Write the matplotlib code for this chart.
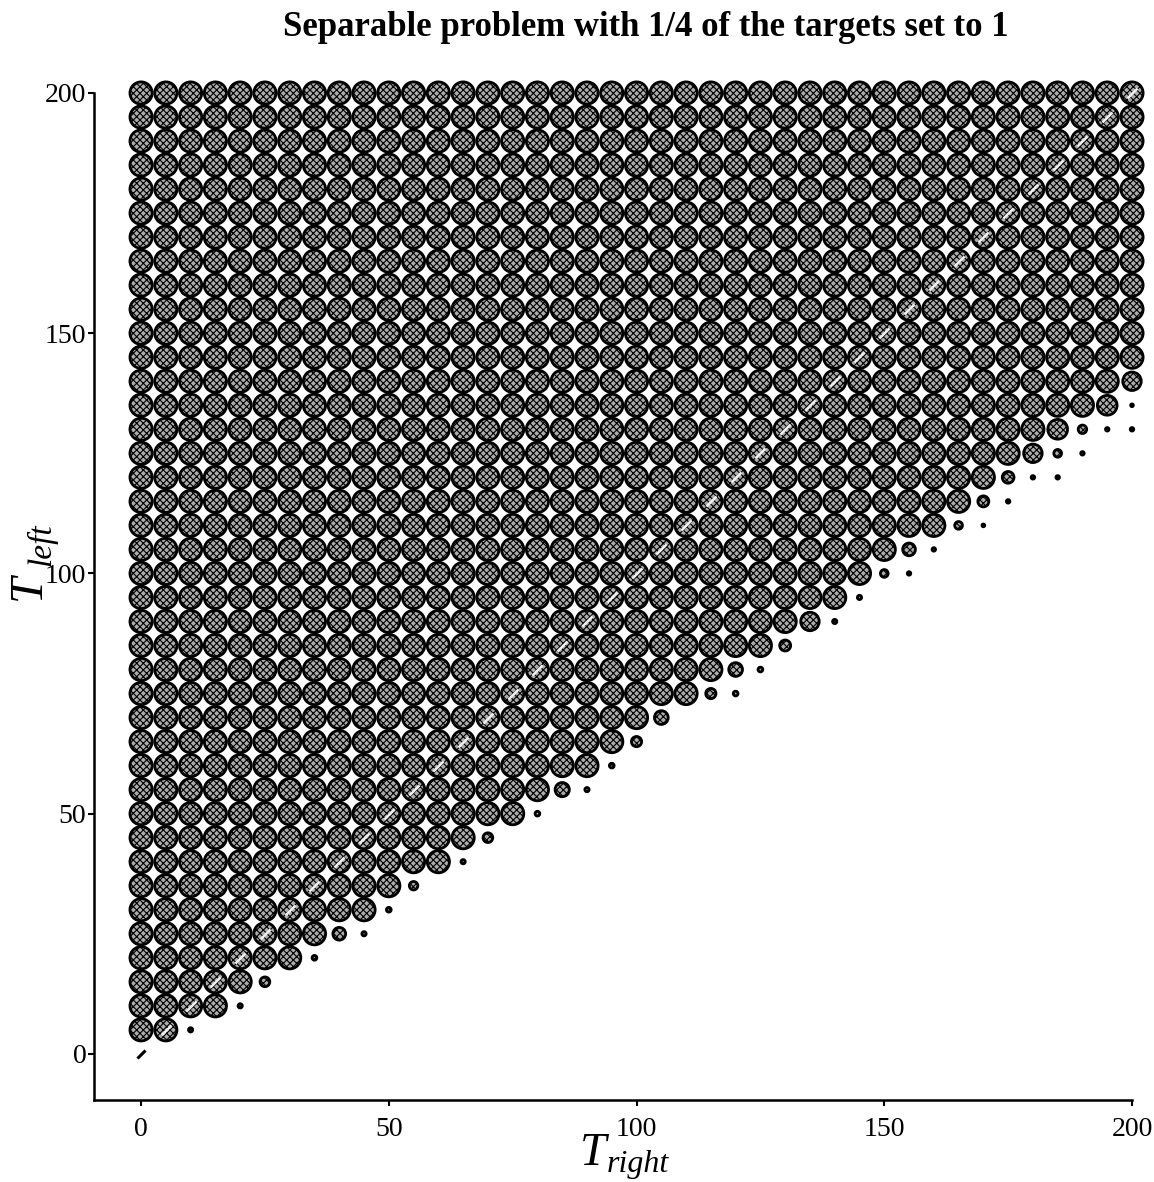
import matplotlib
matplotlib.use("Agg")
import matplotlib.pyplot as plt
from matplotlib.markers import MarkerStyle
from matplotlib.transforms import Affine2D

# ---------------- data ----------------
row_y = list(range(5, 205, 5))                      # T_left levels
full_upto = [5, 15, 20, 30, 35, 45, 50, 60, 65, 75, 80, 90, 95, 100,
             110, 115, 125, 130, 140, 145, 150, 160, 165, 170, 175,
             180, 190, 195] + [200] * 12            # last T_right with a full circle per row

partial_x = [10, 20, 25, 35, 40, 45, 50, 55, 65, 70, 80, 85, 90, 95, 100,
             105, 115, 120, 120, 125, 130, 135, 140, 145, 150, 155, 155,
             160, 165, 170, 170, 175, 175, 180, 185, 180, 185, 190, 185,
             190, 195, 200, 195, 200, 200]
partial_y = [5, 10, 15, 20, 25, 25, 30, 35, 40, 45, 50, 55, 55, 60, 65,
             70, 75, 75, 80, 80, 85, 90, 90, 95, 100, 100, 105,
             105, 110, 110, 115, 115, 120, 120, 120, 125, 125, 125, 130,
             130, 130, 130, 135, 135, 140]
partial_frac = [0.28, 0.28, 0.50, 0.30, 0.62, 0.28, 0.30, 0.45, 0.28, 0.50,
                0.30, 0.68, 0.28, 0.30, 0.52, 0.66, 0.52, 0.30, 0.66, 0.30,
                0.55, 0.85, 0.28, 0.28, 0.42, 0.25, 0.62, 0.25, 0.42, 0.22,
                0.55, 0.25, 0.58, 0.25, 0.25, 0.85, 0.42, 0.25, 0.90, 0.45,
                0.25, 0.25, 0.90, 0.22, 0.85]

diag = list(range(0, 205, 5))                       # cells with T_left == T_right

x_ticks = [0, 50, 100, 150, 200]
y_ticks = [0, 50, 100, 150, 200]
title = "Separable problem with 1/4 of the targets set to 1"

# ---------------- figure ----------------
W, H, DPI = 1154, 1182, 100
plt.rcParams["font.family"] = ["Liberation Serif", "DejaVu Serif"]
plt.rcParams["hatch.color"] = "black"
plt.rcParams["hatch.linewidth"] = 0.8

fig = plt.figure(figsize=(W / DPI, H / DPI), dpi=DPI)
ax = fig.add_axes([94 / W, (H - 1100) / H, (1132 - 94) / W, (1100 - 93) / H])
ax.set_xlim(-9.5, 200)
ax.set_ylim(-9.6, 200)

px2pt = 72.0 / DPI
FULL_D = 25.0        # outer diameter in px of a full circle
EDGE = 2.8           # edge width in px

def size_for(frac):
    inner = max(FULL_D * frac - EDGE, 0.6)
    return (inner * px2pt) ** 2

fx, fy = [], []
for y, xm in zip(row_y, full_upto):
    for x in range(0, xm + 1, 5):
        fx.append(x)
        fy.append(y)

face = "#acacac"
ax.scatter(fx, fy, s=size_for(1.0), facecolor=face, edgecolor="black",
           linewidth=EDGE * px2pt, hatch="xxxxx", clip_on=False, zorder=3)
ax.scatter(partial_x, partial_y, s=[size_for(f) for f in partial_frac],
           facecolor=face, edgecolor="black", linewidth=EDGE * px2pt,
           hatch="xxxxx", clip_on=False, zorder=3)

slash = MarkerStyle("|", transform=Affine2D().rotate_deg(-45))
ax.plot(diag[1:], diag[1:], linestyle="none", marker=slash, markersize=10,
        markeredgewidth=1.8, color="#f0f0f0", zorder=4, clip_on=False)
ax.plot(diag[:1], diag[:1], linestyle="none", marker=slash, markersize=9,
        markeredgewidth=2.2, color="black", zorder=4, clip_on=False)

for s in ("top", "right"):
    ax.spines[s].set_visible(False)
for s in ("left", "bottom"):
    ax.spines[s].set_linewidth(1.8)

ax.set_xticks(x_ticks)
ax.set_yticks(y_ticks)
ax.set_xticklabels([str(v) for v in x_ticks])
ax.set_yticklabels([str(v) for v in y_ticks])
ax.tick_params(axis="both", direction="out", length=4.5, width=1.5,
               labelsize=20)
ax.tick_params(axis="x", pad=8)
ax.tick_params(axis="y", pad=1)

fig.text(646 / W, 1 - 28 / H, title, ha="center", va="center",
         fontsize=25, fontweight="bold")

# x label: T with subscript "right"
fig.text(606 / W, 1 - 1165 / H, "T", ha="right", va="baseline",
         fontsize=34, style="italic")
fig.text(607 / W, 1 - 1172 / H, "right", ha="left", va="baseline",
         fontsize=23, style="italic")
# y label: T with subscript "left" (rotated)
fig.text(40 / W, 1 - 600 / H, "T", ha="left", va="baseline",
         fontsize=34, style="italic", rotation=90, rotation_mode="anchor")
fig.text(50 / W, 1 - 566 / H, "left", ha="left", va="baseline",
         fontsize=24, style="italic", rotation=90, rotation_mode="anchor")

fig.savefig("out.png", dpi=DPI)
